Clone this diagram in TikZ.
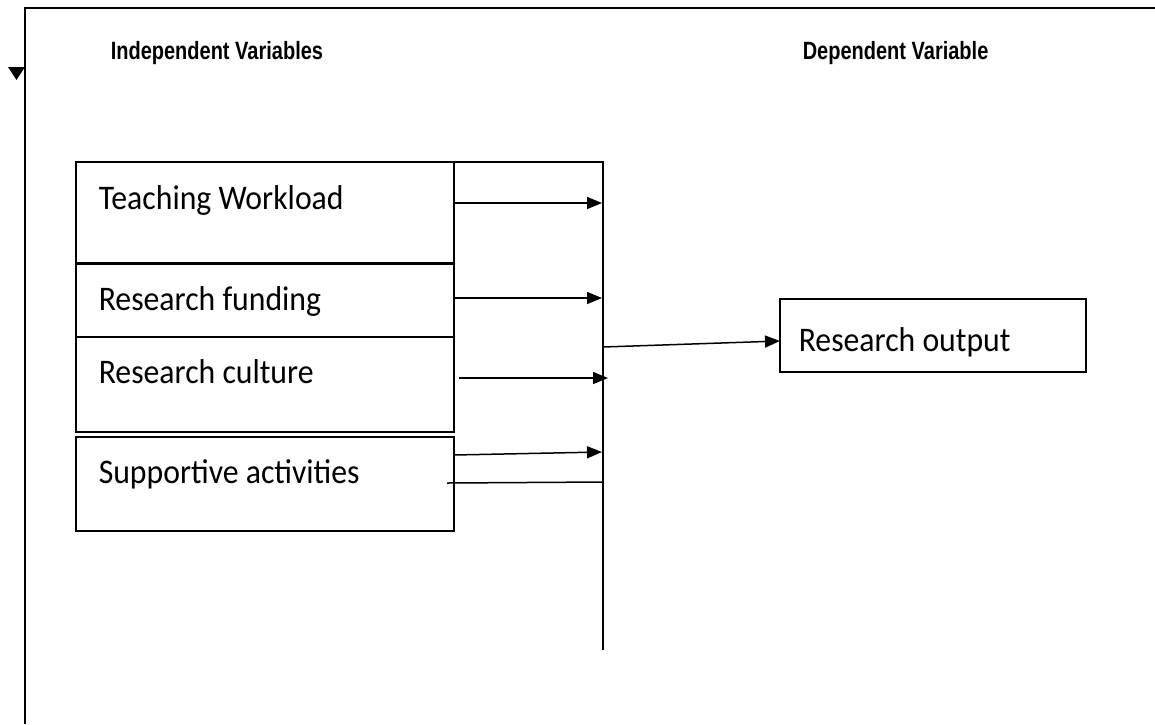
\documentclass[tikz,border=0pt]{standalone}
\usepackage{fontspec}
\setmainfont{Carlito}[FakeStretch=0.92]
\newfontfamily\headfont{Liberation Sans}[FakeStretch=0.8]
\usetikzlibrary{arrows.meta}
\begin{document}
\begin{tikzpicture}[x=1pt,y=-1pt,
  line width=1.5pt,
  varbox/.style={draw,rectangle,minimum width=378pt,inner sep=0pt,outer sep=0pt},
  outbox/.style={draw,rectangle,minimum width=306pt,minimum height=73pt,inner sep=0pt,outer sep=0pt},
  boxtext/.style={anchor=base west,inner sep=0pt,font=\fontsize{34.5}{40}\selectfont},
  headtext/.style={anchor=base west,inner sep=0pt,font=\headfont\bfseries\fontsize{25}{30}\selectfont},
  link/.style={-{Triangle[length=15pt,width=12pt]},line width=1.5pt},
  plain/.style={line width=1.5pt}]
\useasboundingbox (0,0) rectangle (1155,724);

% outer frame (open on the right and at the bottom)
\draw[line width=2pt] (25,724) -- (25,8) -- (1155,8);
% small marker on the frame
\fill (8,67) -- (25,67) -- (16.5,80) -- cycle;

% column headings
\node[headtext] (hind) at (110,59) {Independent Variables};
\node[headtext] (hdep) at (802,59) {Dependent Variable};

% independent variable boxes
\node[varbox,minimum height=101pt] (tw) at (265,212.5) {};
\node[varbox,minimum height=74pt]  (rf) at (265,300) {};
\node[varbox,minimum height=95pt]  (rc) at (265,384.5) {};
\node[varbox,minimum height=94pt]  (sa) at (265,484) {};
\draw[line width=3pt] (tw.south west) -- (tw.south east);

\node[boxtext] (twt) at (98,209) {Teaching Workload};
\node[boxtext] (rft) at (98,310) {Research funding};
\node[boxtext] (rct) at (98,383) {Research culture};
\node[boxtext] (sat) at (98,483) {Supportive activities};

% dependent variable box
\node[outbox] (ro) at (933,335.5) {};
\node[boxtext] (rot) at (798,351) {Research output};

% collecting line
\coordinate (bustop) at (603,162);
\coordinate (busbot) at (603,650);
\coordinate (b1) at (602,203);
\coordinate (b2) at (602,298);
\coordinate (b3) at (608,378);
\coordinate (b4) at (602,452);
\coordinate (b5) at (603,482);
\coordinate (bo) at (603,347);
\draw[plain] (tw.north east) -- (bustop) -- (busbot);

% arrows into the collecting line
\draw[link] ([yshift=9.5pt]tw.east) -- (b1);
\draw[link] ([yshift=2pt]rf.east) -- (b2);
\draw[link] ([xshift=5pt,yshift=6.5pt]rc.east) -- (b3);
\draw[link] ([yshift=29pt]sa.east) -- (b4);
\draw[plain] ([xshift=-7pt,yshift=1pt]sa.east) -- (b5);

% arrow to the dependent variable
\draw[link] (bo) -- ([yshift=-5.5pt]ro.west);
\end{tikzpicture}
\end{document}
